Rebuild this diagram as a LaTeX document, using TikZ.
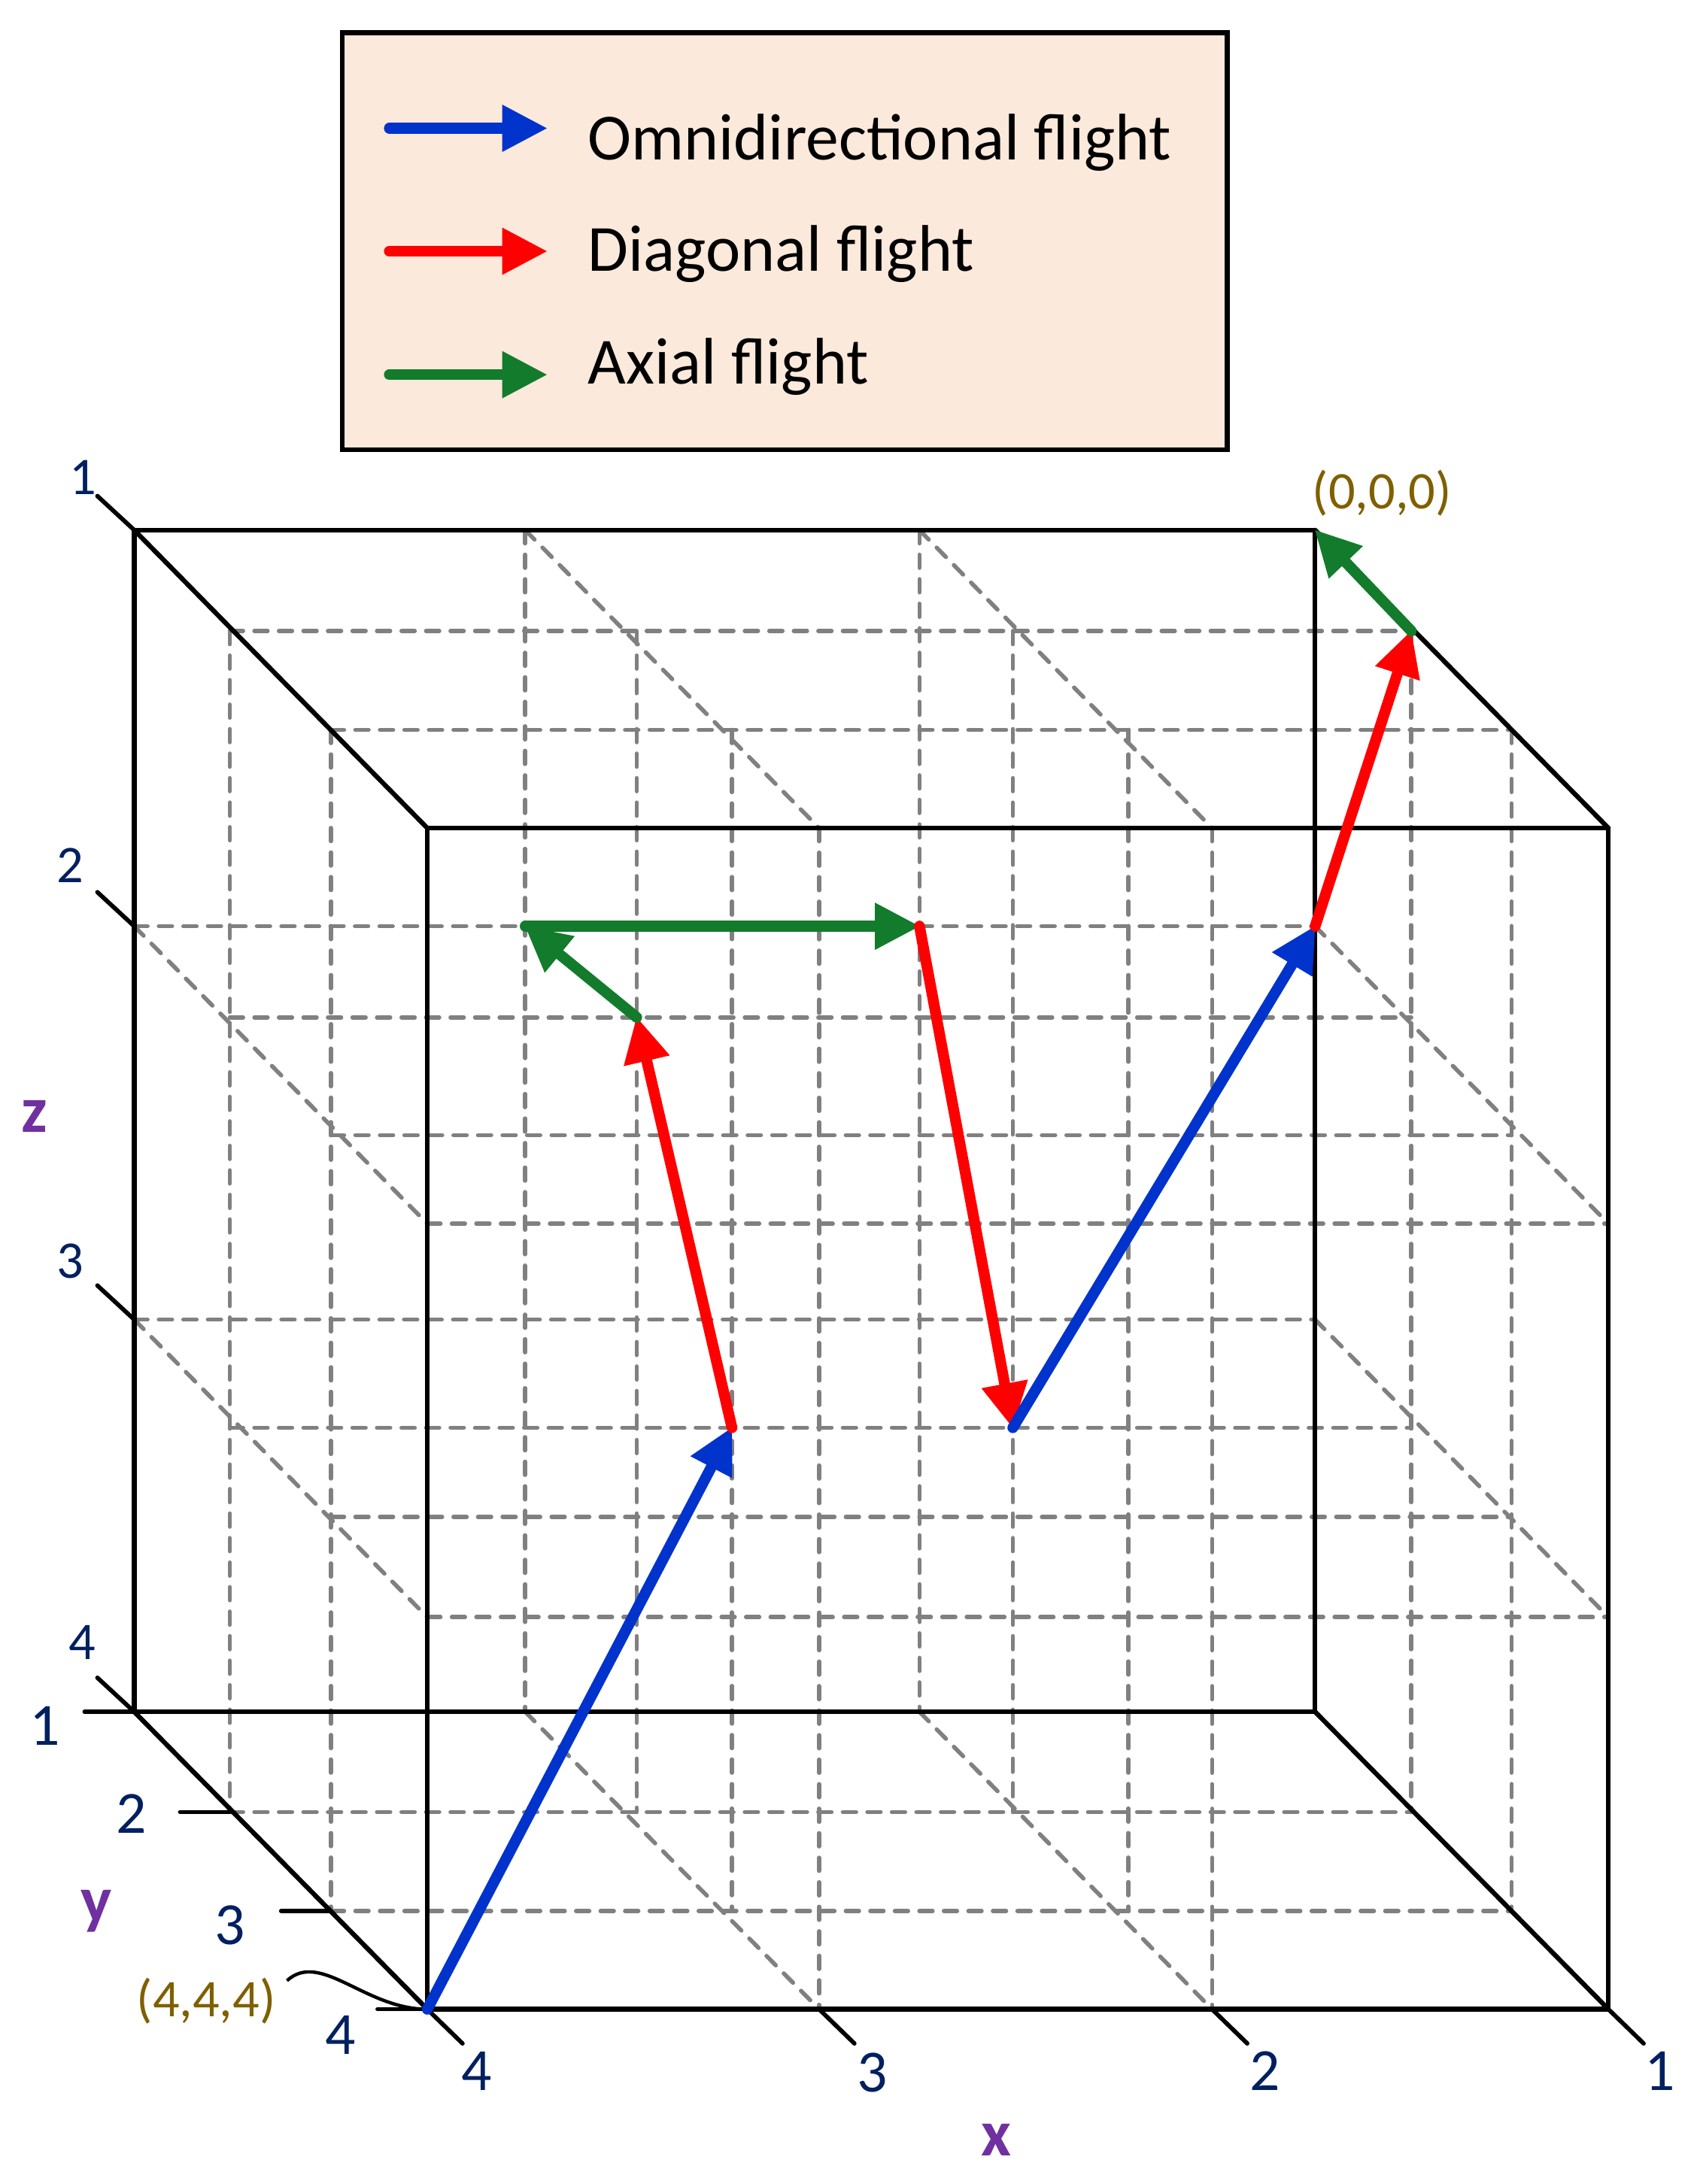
\documentclass[tikz,border=0pt]{standalone}
\usepackage{fontspec}
\setmainfont{Carlito}
\usetikzlibrary{arrows.meta,calc}
\definecolor{navy}{RGB}{0,32,96}
\definecolor{purp}{RGB}{112,48,160}
\definecolor{olivebrown}{RGB}{127,96,0}
\definecolor{peach}{RGB}{251,233,219}
\definecolor{fblue}{RGB}{0,51,204}
\definecolor{fred}{RGB}{255,0,0}
\definecolor{fgreen}{RGB}{18,124,44}
\definecolor{gridgray}{RGB}{128,128,128}
\begin{document}
\begin{tikzpicture}[x=1pt,y=-1pt,
  gridline/.style={draw=gridgray,line width=3pt,dash pattern=on 9.5pt off 8.1pt,line cap=round},
  cubeedge/.style={draw=black,line width=3.4pt,line cap=round,line join=round},
  tickline/.style={draw=black,line width=3.1pt,line cap=round},
  flow/.style={line width=7.8pt,line cap=round,-{Triangle[length=32pt,width=34pt,line width=0pt]}},
  omni/.style={flow,color=fblue},
  diag/.style={flow,color=fred},
  axial/.style={flow,color=fgreen},
  numlab/.style={text=navy,inner sep=0pt,anchor=base,font=\fontsize{43}{45}\selectfont},
  zlab/.style={numlab,font=\fontsize{38}{40}\selectfont},
  axlab/.style={text=purp,inner sep=0pt,anchor=base,font=\fontsize{47}{50}\selectfont\bfseries},
  ptlab/.style={text=olivebrown,inner sep=0pt,anchor=base,font=\fontsize{38}{40}\selectfont},
  legtext/.style={text=black,inner sep=0pt,anchor=base west,font=\fontsize{47.3}{50}\selectfont},
]
\useasboundingbox (0,0) rectangle (1218,1568);

% lattice of slice crossings
\def\XX{{96.4,165,237.5,306.7,377,457,525.4,588,660,727,810,870,944,1013,1085,1154.5}}
\def\YY{{380.6,453,524,594.5,665,730.4,815,878.5,947.4,1025,1089,1161,1229,1301,1372,1442.5}}
\foreach \i in {0,...,3}{\foreach \j in {0,...,3}{\foreach \k in {0,...,3}{
  \pgfmathsetmacro\px{\XX[4*\i+\j]}
  \pgfmathsetmacro\py{\YY[4*\k+\j]}
  \coordinate (p\i\j\k) at (\px,\py);
}}}

% dashed grid
\foreach \j in {1,2}{\foreach \i in {0,...,3}{\draw[gridline] (p\i\j0) -- (p\i\j3);}}
\foreach \j in {0,3}{\foreach \i in {1,2}{\draw[gridline] (p\i\j0) -- (p\i\j3);}}
\foreach \j in {1,2}{\foreach \k in {0,...,3}{\draw[gridline] (p0\j\k) -- (p3\j\k);}}
\foreach \j in {0,3}{\foreach \k in {1,2}{\draw[gridline] (p0\j\k) -- (p3\j\k);}}
\foreach \i/\k in {0/1,0/2,3/1,3/2,1/0,2/0,1/3,2/3}{\draw[gridline] (p\i0\k) -- (p\i3\k);}

% cube edges
\draw[cubeedge] (p000) -- (p300) -- (p303) -- (p003) -- cycle;
\draw[cubeedge] (p030) -- (p330) -- (p333) -- (p033) -- cycle;
\draw[cubeedge] (p000) -- (p030) (p300) -- (p330) (p003) -- (p033) (p303) -- (p333);

% ticks
\foreach \k in {0,...,3}{\coordinate (zt\k) at ($(p00\k)+(-26.5,-24.5)$); \draw[tickline] (p00\k) -- (zt\k);}
\foreach \j in {0,...,3}{\coordinate (yt\j) at ($(p0\j3)+(-35.7,0)$); \draw[tickline] (p0\j3) -- (yt\j);}
\foreach \i in {0,...,3}{\coordinate (xt\i) at ($(p\i33)+(25.3,24.6)$); \draw[tickline] (p\i33) -- (xt\i);}

% tick labels
\node[zlab] (z1) at (59.8,354.8) {1};
\node[zlab] (z2) at (50.6,633.7) {2};
\node[zlab] (z3) at (50.6,917.8) {3};
\node[zlab] (z4) at (59.2,1191.5) {4};
\node[numlab] (y1) at (32.4,1253) {1};
\node[numlab] (y2) at (94.3,1316) {2};
\node[numlab] (y3) at (165.3,1395.8) {3};
\node[numlab] (y4) at (244.4,1475) {4};
\node[numlab] (x4) at (342.3,1501) {4};
\node[numlab] (x3) at (626,1501.6) {3};
\node[numlab] (x2) at (908,1501) {2};
\node[numlab] (x1) at (1191.4,1501) {1};

% axis names
\node[axlab] (ax) at (715,1547.5) {x};
\node[axlab] (ay) at (69,1380) {y};
\node[axlab] (az) at (24.5,813) {z};

% corner labels
\node[ptlab] (l000) at (992,365.4) {(0,0,0)};
\node[ptlab] (l444) at (148,1447.7) {(4,4,4)};
\coordinate (c444) at (206,1422);
\draw[line width=2.4pt] (c444) .. controls (230,1400) and (262,1442.5) .. (p033);

% flight path
\coordinate (a1) at (p122 |- p112);
\draw[omni] (p033) -- (a1);
\draw[diag] (a1) -- (p111);
\draw[axial] (p111) -- (p101);
\draw[axial] (p101) -- (p201);
\draw[diag] (p201) -- (p212);
\draw[omni] (p212) -- (p301);
\draw[diag] (p301) -- (p310);
\draw[axial] (p310) -- (p300);

% legend
\node[draw=black,line width=3.6pt,fill=peach,inner sep=0pt,anchor=north west,
      minimum width=635.2pt,minimum height=299.2pt] (legend) at (243.8,21.8) {};
\coordinate (lb0) at (279.5,92.1);  \coordinate (lb1) at (392.5,92.1);
\coordinate (lr0) at (279.5,180.4); \coordinate (lr1) at (392.5,180.4);
\coordinate (lg0) at (279.5,269);   \coordinate (lg1) at (392.5,269);
\draw[omni] (lb0) -- (lb1);
\draw[diag] (lr0) -- (lr1);
\draw[axial] (lg0) -- (lg1);
\node[legtext] (t1) at (422,115) {Omnidirectional flight};
\node[legtext] (t2) at (422,194.6) {Diagonal flight};
\node[legtext] (t3) at (422,275.5) {Axial flight};
\end{tikzpicture}
\end{document}
